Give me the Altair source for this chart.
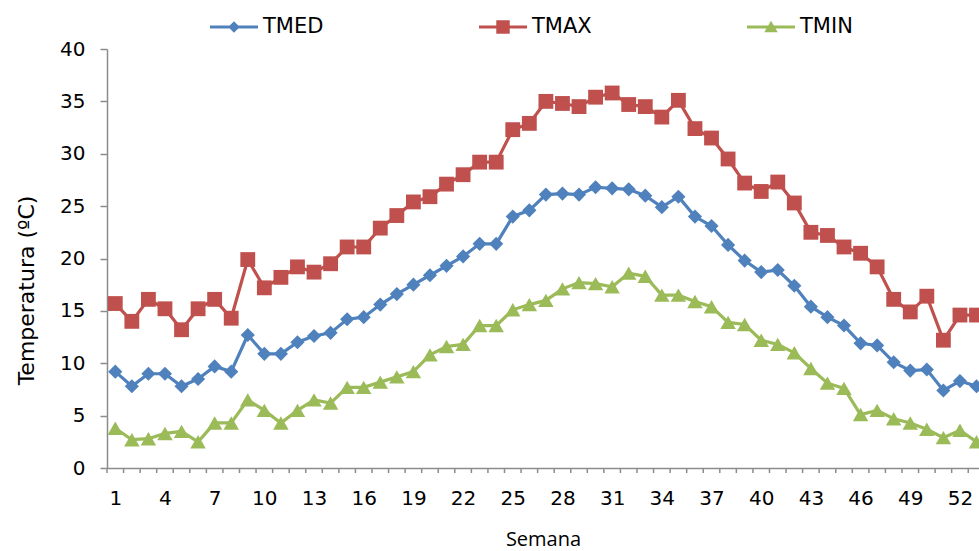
import altair as alt
import pandas as pd

weeks = list(range(1, 54))
tmed = [9.2, 7.8, 9.0, 9.0, 7.8, 8.5, 9.7, 9.2, 12.7, 10.9,
        10.9, 12.0, 12.6, 12.9, 14.2, 14.4, 15.6, 16.6, 17.5, 18.4,
        19.3, 20.2, 21.4, 21.4, 24.0, 24.6, 26.1, 26.2, 26.1, 26.8,
        26.7, 26.6, 26.0, 24.9, 25.9, 24.0, 23.1, 21.3, 19.8, 18.7,
        18.9, 17.4, 15.4, 14.4, 13.6, 11.9, 11.7, 10.1, 9.3, 9.4,
        7.4, 8.3, 7.8]
tmax = [15.7, 14.0, 16.1, 15.2, 13.2, 15.2, 16.1, 14.3, 19.9, 17.2,
        18.2, 19.2, 18.7, 19.5, 21.1, 21.1, 22.9, 24.1, 25.4, 25.9,
        27.1, 28.0, 29.2, 29.2, 32.3, 32.9, 35.0, 34.8, 34.5, 35.4,
        35.8, 34.7, 34.5, 33.5, 35.1, 32.4, 31.5, 29.5, 27.2, 26.4,
        27.3, 25.3, 22.5, 22.2, 21.1, 20.5, 19.2, 16.1, 14.9, 16.4,
        12.2, 14.6, 14.6]
tmin = [3.8, 2.7, 2.8, 3.3, 3.5, 2.5, 4.3, 4.3, 6.5, 5.5,
        4.3, 5.5, 6.5, 6.2, 7.7, 7.7, 8.2, 8.7, 9.2, 10.8,
        11.6, 11.8, 13.6, 13.6, 15.1, 15.6, 16.0, 17.1, 17.7, 17.6,
        17.3, 18.6, 18.3, 16.5, 16.5, 15.9, 15.4, 13.9, 13.7, 12.2,
        11.8, 11.0, 9.5, 8.1, 7.6, 5.1, 5.5, 4.7, 4.3, 3.7,
        2.9, 3.6, 2.5]

series_names = ["TMED", "TMAX", "TMIN"]
series_colors = ["#4F81BD", "#C0504D", "#9BBB59"]
x_tick_labels = [1, 4, 7, 10, 13, 16, 19, 22, 25, 28, 31, 34, 37, 40, 43, 46, 49, 52]
y_ticks = [0, 5, 10, 15, 20, 25, 30, 35, 40]

rows = []
for name, vals in zip(series_names, [tmed, tmax, tmin]):
    for w, v in zip(weeks, vals):
        rows.append({"Semana": w, "serie": name, "valor": v})
df = pd.DataFrame(rows)
bounds = pd.DataFrame({"b": [w - 0.5 for w in weeks if w - 0.5 < 53]})

AXIS_GRAY = "#8C8C8C"
W, H = 872, 419

x_scale = alt.Scale(domain=[0.5, 53.15], nice=False, zero=False)
y_scale = alt.Scale(domain=[0, 40], nice=False)
color_scale = alt.Scale(domain=series_names, range=series_colors)

legend_paths = [
    "M-1,-0.0625H1V0.0625H-1Z M0,-0.24L0.24,0L0,0.24L-0.24,0Z",
    "M-1,-0.0625H1V0.0625H-1Z M-0.28,-0.28H0.28V0.28H-0.28Z",
    "M-1,-0.0625H1V0.0625H-1Z M0,-0.26L0.28,0.22L-0.28,0.22Z",
]

x_enc = alt.X("Semana:Q", scale=x_scale,
              axis=alt.Axis(values=x_tick_labels, ticks=False, grid=False,
                            labelPadding=20, labelBaseline="top", labelFont="DejaVu Sans",
                            labelFontSize=20, labelColor="black", domainColor=AXIS_GRAY,
                            domainWidth=1.5, title="Semana", titleFont="Open Sans",
                            titleFontSize=20, titleFontWeight="normal", titleColor="black",
                            titleBaseline="alphabetic", titleY=77))
y_enc = alt.Y("valor:Q", scale=y_scale,
              axis=alt.Axis(values=y_ticks, grid=False, tickSize=7, tickColor=AXIS_GRAY,
                            tickWidth=1.5, labelPadding=15, labelFont="DejaVu Sans",
                            labelFontSize=20, labelColor="black", domainColor=AXIS_GRAY,
                            domainWidth=1.5, title="Temperatura (ºC)", titleFont="DejaVu Sans",
                            titleFontSize=22, titleFontWeight="normal", titleColor="black",
                            titleAngle=270, titleAlign="center", titleBaseline="alphabetic",
                            titleX=-74, titleY=241))

minor_ticks = alt.Chart(bounds).mark_rule(color=AXIS_GRAY, strokeWidth=1.5).encode(
    x=alt.X("b:Q", scale=x_scale), y=alt.value(H), y2=alt.value(H + 5)
)

axes_layer = alt.Chart(df).mark_line(opacity=0).encode(x=x_enc, y=y_enc, detail="serie:N")

marker_specs = {"TMED": ("diamond", 200), "TMAX": ("square", 220), "TMIN": ("triangle-up", 240)}
series_layers = []
for name, col in zip(series_names, series_colors):
    shp, sz = marker_specs[name]
    sub = alt.Chart(df).transform_filter(alt.datum.serie == name)
    series_layers.append(
        sub.mark_line(color=col, strokeWidth=3.2).encode(
            x=alt.X("Semana:Q", scale=x_scale), y=alt.Y("valor:Q", scale=y_scale))
    )
    series_layers.append(
        sub.mark_point(shape=shp, size=sz, filled=True, opacity=1, color=col, strokeWidth=0).encode(
            x=alt.X("Semana:Q", scale=x_scale), y=alt.Y("valor:Q", scale=y_scale))
    )

legend_layer = alt.Chart(pd.DataFrame({"serie": series_names})).transform_filter("false").mark_point(
    filled=True, opacity=1
).encode(
    color=alt.Color("serie:N", scale=color_scale,
                    legend=alt.Legend(title=None, orient="none", legendX=103, legendY=-46,
                                      direction="horizontal", columns=3, columnPadding=155,
                                      symbolSize=2304, symbolStrokeWidth=0, labelOffset=5,
                                      labelFont="DejaVu Sans", labelFontSize=21,
                                      labelColor="black", padding=0)),
    shape=alt.Shape("serie:N", scale=alt.Scale(domain=series_names, range=legend_paths)),
)

chart = alt.layer(minor_ticks, axes_layer, *series_layers, legend_layer).properties(
    width=W, height=H,
    autosize=alt.AutoSizeParams(type="none"),
    padding={"left": 107, "top": 49, "right": 0, "bottom": 83},
    background="white",
).configure_view(stroke=None)

chart.save("out.html", embed_options={"renderer": "svg", "actions": False})
